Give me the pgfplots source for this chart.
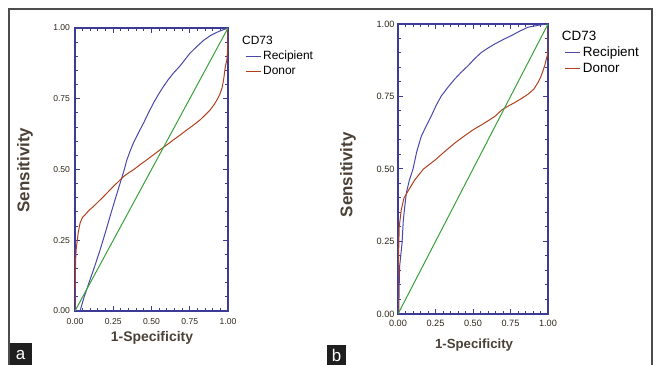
\documentclass[border=0pt]{standalone}
\usepackage{fontspec}
\setmainfont{Liberation Sans}
\usepackage{pgfplots}
\pgfplotsset{compat=1.18}
\definecolor{frameblue}{HTML}{3C3C96}
\definecolor{recip}{HTML}{4848AA}
\definecolor{donor}{HTML}{B0401C}
\definecolor{diag}{HTML}{3AA03A}
\definecolor{labcol}{HTML}{4A4036}
\definecolor{tickcol}{HTML}{2E2618}
\pgfplotsset{
  rocstyle/.style={
    scale only axis,
    xmin=0, xmax=1, ymin=0, ymax=1,
    axis line style={frameblue, line width=1.4bp},
    tick style={frameblue, line width=1bp},
    tick align=inside, tick pos=both,
    major tick length=5bp, minor tick length=3bp,
    xtick={0,0.25,0.5,0.75,1}, ytick={0,0.25,0.5,0.75,1},
    minor xtick={0.05,0.1,0.15,0.2,0.3,0.35,0.4,0.45,0.55,0.6,0.65,0.7,0.8,0.85,0.9,0.95},
    minor ytick={0.05,0.1,0.15,0.2,0.3,0.35,0.4,0.45,0.55,0.6,0.65,0.7,0.8,0.85,0.9,0.95},
    xticklabel style={/pgf/number format/fixed, /pgf/number format/fixed zerofill, /pgf/number format/precision=2},
    yticklabel style={/pgf/number format/fixed, /pgf/number format/fixed zerofill, /pgf/number format/precision=2},
    /pgf/number format/assume math mode=true,
    ticklabel style={text=tickcol},
    xlabel={1-Specificity}, ylabel={Sensitivity},
    label style={text=labcol},
    legend style={draw=none, fill=none, anchor=north west, legend cell align=left, row sep=1bp},
    legend image code/.code={\draw[#1, line width=1.2bp] (0bp,0bp) -- (15bp,0bp);},
  }
}
\begin{document}
\begin{tikzpicture}
\path[use as bounding box] (0,0) rectangle (659bp,365bp);
\draw[black!70, line width=1.3bp] (9bp,-2bp) -- (9bp,356bp) -- (652bp,356bp) -- (652bp,-2bp);
\fill[black!88] (10bp,0bp) rectangle (32bp,22bp);
\node[text=white, font=\fontsize{17}{17}\selectfont] at (20.5bp,10bp) {a};
\fill[black!88] (327bp,0bp) rectangle (346bp,20bp);
\node[text=white, font=\fontsize{17}{17}\selectfont] at (336.5bp,10bp) {b};

% Panel a
\begin{axis}[rocstyle, at={(75bp,54bp)}, anchor=south west, width=153bp, height=283bp,
  ticklabel style={font=\fontsize{8.6}{10}\selectfont},
  x tick label style={yshift=-3.5bp},
  y tick label style={xshift=-1.5bp},
  x label style={at={(axis description cs:0.503,-0.095)}, anchor=center, font=\fontsize{14}{16}\selectfont\bfseries},
  y label style={at={(axis description cs:-0.327,0.498)}, anchor=center, font=\fontsize{17}{19}\selectfont\bfseries},
  legend style={at={(1.09,0.985)}, font=\fontsize{12}{14}\selectfont},
]
\addlegendimage{empty legend}
\addlegendentry{\hspace{-21bp}CD73}
\addplot[recip, line width=1bp] coordinates {
(0,0) (0.033,0) (0.06,0.05) (0.098,0.11) (0.13,0.16) (0.164,0.216) (0.2,0.28) (0.229,0.334) (0.26,0.39) (0.295,0.452) (0.317,0.49) (0.338,0.532) (0.36,0.565) (0.382,0.594) (0.415,0.63) (0.448,0.664) (0.48,0.70) (0.513,0.735) (0.545,0.765) (0.579,0.794) (0.61,0.818) (0.644,0.841) (0.68,0.862) (0.71,0.882) (0.75,0.91) (0.797,0.935) (0.84,0.956) (0.884,0.973) (0.92,0.983) (0.95,0.99) (0.98,0.996) (1,1)
};
\addlegendentry{Recipient}
\addplot[donor, line width=1bp] coordinates {
(0,0) (0.002,0.10) (0.004,0.18) (0.008,0.22) (0.015,0.25) (0.022,0.28) (0.033,0.31) (0.048,0.33) (0.066,0.34) (0.09,0.355) (0.12,0.369) (0.15,0.385) (0.186,0.404) (0.22,0.423) (0.251,0.44) (0.285,0.458) (0.317,0.475) (0.35,0.488) (0.382,0.499) (0.425,0.517) (0.469,0.534) (0.513,0.552) (0.557,0.57) (0.6,0.587) (0.644,0.605) (0.688,0.622) (0.731,0.64) (0.775,0.657) (0.819,0.676) (0.855,0.695) (0.884,0.711) (0.91,0.73) (0.928,0.746) (0.946,0.765) (0.961,0.788) (0.972,0.82) (0.983,0.865) (0.993,0.888) (0.998,0.93) (1,1)
};
\addlegendentry{Donor}
\addplot[diag, line width=1bp, forget plot] coordinates {(0,0) (1,1)};
\end{axis}

% Panel b
\begin{axis}[rocstyle, at={(398bp,51bp)}, anchor=south west, width=150bp, height=290bp,
  ticklabel style={font=\fontsize{9.2}{11}\selectfont},
  x tick label style={yshift=-2.5bp},
  y tick label style={xshift=0bp},
  x label style={at={(axis description cs:0.507,-0.107)}, anchor=center, font=\fontsize{13.3}{15}\selectfont\bfseries},
  y label style={at={(axis description cs:-0.333,0.48)}, anchor=center, font=\fontsize{17}{19}\selectfont\bfseries},
  legend style={at={(1.09,0.99)}, font=\fontsize{13.5}{15}\selectfont},
]
\addlegendimage{empty legend}
\addlegendentry{\hspace{-21bp}CD73}
\addplot[recip, line width=1bp] coordinates {
(0,0) (0.005,0) (0.008,0.10) (0.011,0.165) (0.02,0.21) (0.027,0.245) (0.035,0.32) (0.045,0.37) (0.056,0.418) (0.075,0.46) (0.1,0.50) (0.125,0.56) (0.156,0.614) (0.19,0.65) (0.222,0.683) (0.255,0.72) (0.289,0.752) (0.33,0.78) (0.378,0.81) (0.42,0.833) (0.467,0.856) (0.51,0.88) (0.556,0.902) (0.6,0.917) (0.645,0.931) (0.7,0.946) (0.756,0.96) (0.81,0.975) (0.867,0.989) (0.95,0.997) (1,1)
};
\addlegendentry{Recipient}
\addplot[donor, line width=1bp] coordinates {
(0,0) (0.002,0.16) (0.008,0.30) (0.022,0.36) (0.04,0.40) (0.067,0.424) (0.111,0.462) (0.17,0.50) (0.245,0.53) (0.311,0.56) (0.38,0.59) (0.445,0.615) (0.5,0.635) (0.556,0.652) (0.6,0.666) (0.645,0.681) (0.693,0.704) (0.735,0.717) (0.778,0.729) (0.82,0.742) (0.867,0.758) (0.905,0.775) (0.933,0.798) (0.952,0.818) (0.967,0.839) (0.98,0.86) (0.989,0.879) (0.997,0.895) (1,0.91) (1,1)
};
\addlegendentry{Donor}
\addplot[diag, line width=1bp, forget plot] coordinates {(0,0) (1,1)};
\end{axis}
\end{tikzpicture}
\end{document}
